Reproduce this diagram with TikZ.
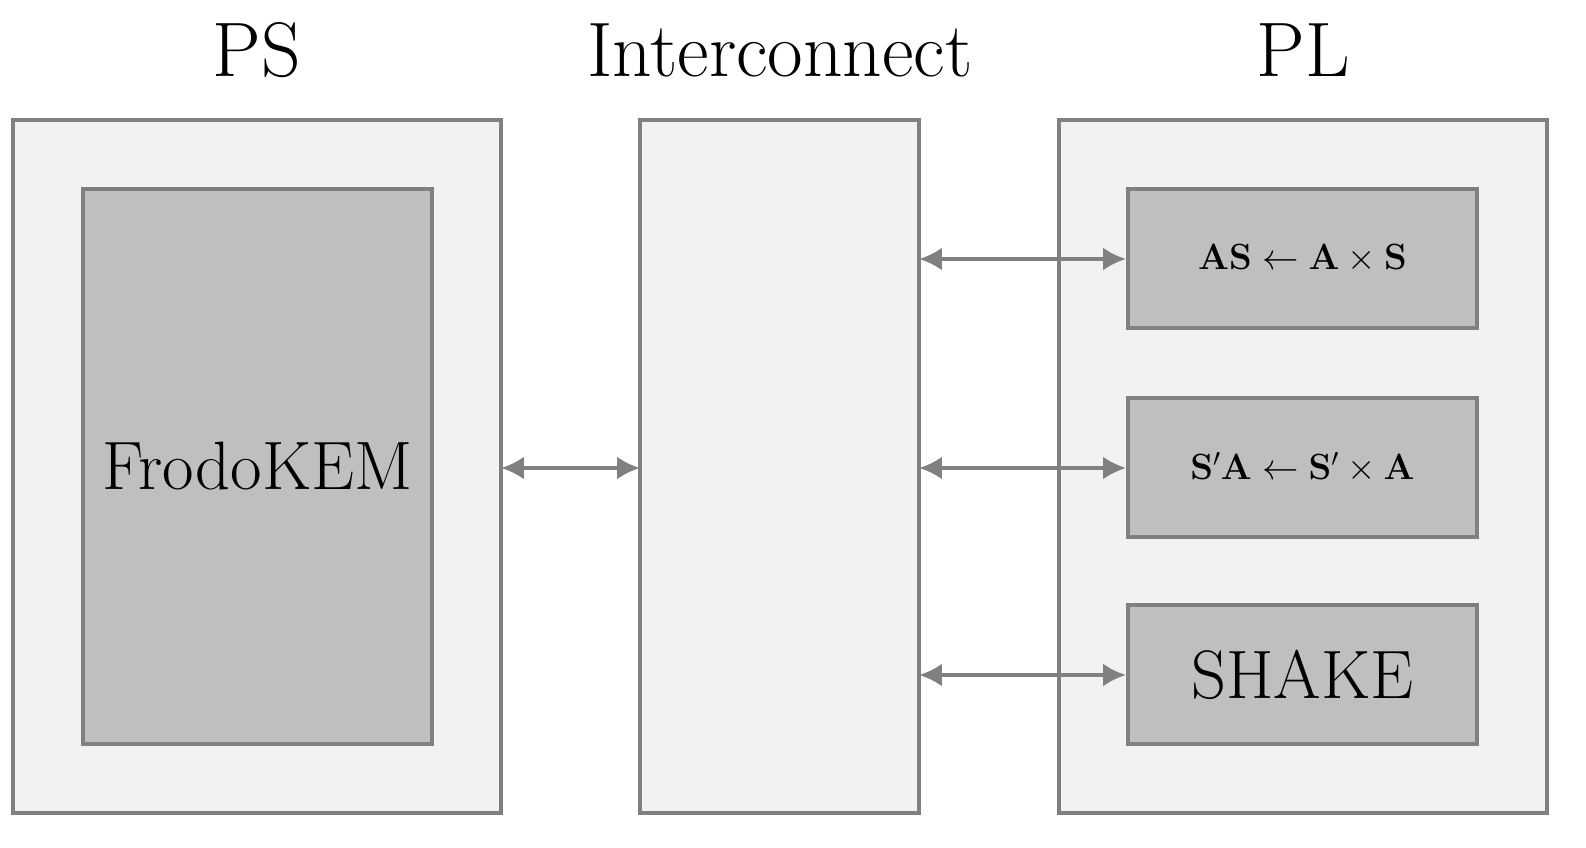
\documentclass[tikz,border=0pt]{standalone}
\usetikzlibrary{arrows.meta}
\begin{document}
\begin{tikzpicture}[x=0.02cm,y=-0.02cm,
  outer/.style={draw=gray,line width=2.2pt,fill=black!5},
  inner/.style={draw=gray,line width=2.2pt,fill=black!25},
  conn/.style={draw=gray,line width=2.2pt,{Latex[length=13pt,width=13pt]}-{Latex[length=13pt,width=13pt]}},
  ttl/.style={font=\fontsize{44}{50}\selectfont}]
\useasboundingbox (0,0) rectangle (1586,848);
\draw[outer] (13,120) rectangle (501,813);
\draw[inner] (83,189) rectangle (432,744);
\draw[outer] (640,120) rectangle (919,813);
\draw[outer] (1059,120) rectangle (1547,813);
\node[inner,minimum width=349*0.02cm,minimum height=139*0.02cm] (m1) at (1302.5,258.5) {\fontsize{22}{26}\selectfont $\mathbf{AS}\leftarrow\mathbf{A}\times\mathbf{S}$};
\node[inner,minimum width=349*0.02cm,minimum height=139*0.02cm] (m2) at (1302.5,467.5) {\fontsize{22}{26}\selectfont $\mathbf{S'A}\leftarrow\mathbf{S'}\times\mathbf{A}$};
\node[inner,minimum width=349*0.02cm,minimum height=139*0.02cm] (m3) at (1302.5,674.5) {\fontsize{39}{44}\selectfont SHAKE};
\node[font=\fontsize{39}{44}\selectfont] (fk) at (257.5,466) {FrodoKEM};
\node[ttl] (t1) at (257,50) {PS};
\node[ttl] (t2) at (780,50) {Interconnect};
\node[ttl] (t3) at (1303,50) {PL};
\coordinate (ps) at (501,468);
\coordinate (ic) at (640,468);
\coordinate (i1) at (919,259);
\coordinate (i2) at (919,468);
\coordinate (i3) at (919,675);
\draw[conn] (ps) -- (ic);
\draw[conn] (i1) -- (i1 -| m1.west);
\draw[conn] (i2) -- (i2 -| m2.west);
\draw[conn] (i3) -- (i3 -| m3.west);
\end{tikzpicture}
\end{document}
